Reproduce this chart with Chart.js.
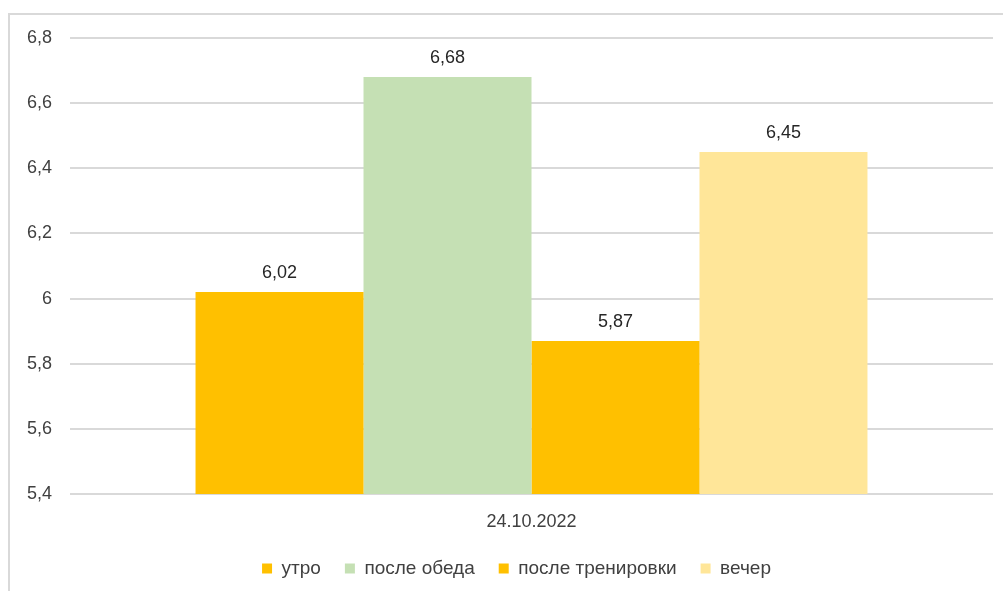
<!DOCTYPE html>
<html>
<head>
<meta charset="utf-8">
<script src="https://cdn.jsdelivr.net/npm/chart.js@4"></script>
<style>
  html, body { margin: 0; padding: 0; background: #fff; }
  #wrap { position: relative; width: 1003px; height: 591px; overflow: hidden; }
  #frame { position: absolute; left: 8px; top: 13px; width: 1100px; height: 700px;
           border-left: 2px solid #d9d9d9; border-top: 2px solid #d9d9d9; }
  canvas { position: absolute; left: 0; top: 0; }
</style>
</head>
<body>
<div id="wrap">
  <div id="frame"></div>
  <canvas id="chart" width="1003" height="591"></canvas>
</div>
<script>
// ===== Data =====
const categories = ['24.10.2022'];
const seriesNames = ['утро', 'после обеда', 'после тренировки', 'вечер'];
const seriesValues = [[6.02], [6.68], [5.87], [6.45]];
const seriesColors = ['#FFC000', '#C5E0B4', '#FFC000', '#FFE699'];
const yTicks = [5.4, 5.6, 5.8, 6, 6.2, 6.4, 6.6, 6.8];

const FONT = 'Liberation Sans, Arial, sans-serif';

function fmt(v, digits) {
  return (Math.round(v * Math.pow(10, digits)) / Math.pow(10, digits)).toString().replace('.', ',');
}

// значения над столбцами
const valueLabels = {
  id: 'valueLabels',
  afterDatasetsDraw(chart) {
    const ctx = chart.ctx;
    ctx.save();
    ctx.font = '18px ' + FONT;
    ctx.fillStyle = '#262626';
    ctx.textAlign = 'center';
    ctx.textBaseline = 'alphabetic';
    chart.data.datasets.forEach((ds, i) => {
      chart.getDatasetMeta(i).data.forEach((bar, j) => {
        ctx.fillText(ds.data[j].toFixed(2).replace('.', ','), bar.x, bar.y - 14);
      });
    });
    ctx.restore();
  }
};

// легенда в оригинале чуть смещена вправо
const legendShift = {
  id: 'legendShift',
  beforeDraw(chart) {
    if (chart.legend && !chart.legend._shifted) {
      chart.legend.left += 20;
      chart.legend.right += 20;
      chart.legend._shifted = true;
    }
  }
};

new Chart(document.getElementById('chart'), {
  type: 'bar',
  data: {
    labels: categories,
    datasets: seriesNames.map((name, i) => ({
      label: name,
      data: seriesValues[i],
      backgroundColor: seriesColors[i],
      borderWidth: 0,
      barPercentage: 1,
      categoryPercentage: 0.728
    }))
  },
  options: {
    responsive: false,
    animation: false,
    layout: { padding: { top: 38, right: 10, bottom: 3, left: 0 } },
    plugins: {
      legend: {
        position: 'bottom',
        labels: {
          boxWidth: 10, boxHeight: 10, padding: 24,
          color: '#404040',
          font: { family: FONT, size: 19 }
        }
      },
      tooltip: { enabled: false }
    },
    scales: {
      x: {
        afterFit: s => { s.height = 41; },
        grid: { display: false },
        border: { display: false },
        ticks: { color: '#404040', font: { family: FONT, size: 18 }, padding: 9 }
      },
      y: {
        min: 5.4, max: 6.8,
        afterFit: s => { s.width = 70; },
        afterBuildTicks: s => { s.ticks = yTicks.map(v => ({ value: v })); },
        grid: { color: '#d9d9d9', lineWidth: 2, drawTicks: false },
        border: { display: false },
        ticks: {
          color: '#404040', padding: 18,
          font: { family: FONT, size: 18 },
          callback: v => fmt(v, 1)
        }
      }
    }
  },
  plugins: [valueLabels, legendShift]
});
</script>
</body>
</html>
